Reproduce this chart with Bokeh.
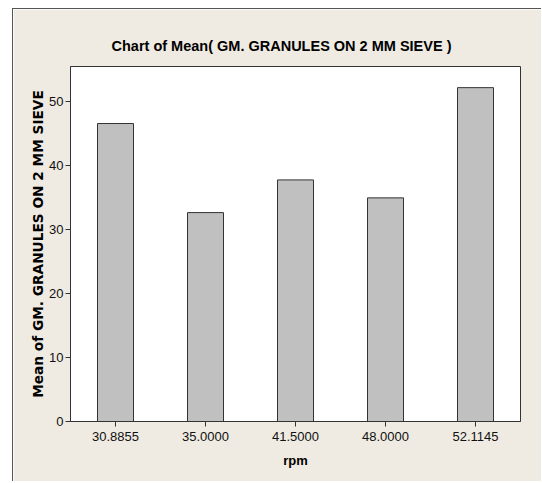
from bokeh.plotting import figure
from bokeh.models import FactorRange, Range1d, FixedTicker
from bokeh.embed import file_html
from bokeh.resources import INLINE

rpm = ["30.8855", "35.0000", "41.5000", "48.0000", "52.1145"]
mean_values = [46.5, 32.6, 37.7, 34.9, 52.1]
y_ticks = [0, 10, 20, 30, 40, 50]

title_text = "Chart of Mean( GM. GRANULES ON 2 MM SIEVE )"
x_label = "rpm"
y_label = "Mean of GM. GRANULES ON 2 MM SIEVE"

BG = "#EFEBE2"
DARK = "#333333"
SANS = "Liberation Sans"

p = figure(
    x_range=FactorRange(factors=rpm, range_padding=0),
    y_range=Range1d(0, 55.4),
    frame_width=450, frame_height=355,
    width=528, height=472,
    min_border_left=57, min_border_top=57, min_border_right=21, min_border_bottom=60,
    output_backend="svg", toolbar_location=None,
    background_fill_color="white", border_fill_color=BG,
)
p.styles = {"margin-left": "12px", "margin-top": "8px",
            "border-left": "1px solid #555555", "border-top": "1px solid #555555"}

p.vbar(x=rpm, top=mean_values, bottom=0, width=0.4,
       fill_color="#C0C0C0", line_color=DARK, line_width=1)

p.title.text = title_text
p.title.text_font = SANS
p.title.text_font_size = "14.5px"
p.title.text_font_style = "bold"
p.title.text_color = "black"
p.title.align = "left"
p.title.offset = 41
p.title.standoff = 25

p.outline_line_color = DARK
p.outline_line_width = 1
p.xgrid.visible = False
p.ygrid.visible = False

for ax in (p.xaxis[0], p.yaxis[0]):
    ax.axis_line_color = DARK
    ax.major_tick_line_color = DARK
    ax.major_tick_in = 0
    ax.major_tick_out = 5
    ax.minor_tick_line_color = None
    ax.major_label_text_font = SANS
    ax.major_label_text_font_size = "13px"
    ax.major_label_text_color = "#111111"

p.yaxis.ticker = FixedTicker(ticks=y_ticks)
p.yaxis.major_label_standoff = 2
p.yaxis.axis_label = y_label
p.yaxis.axis_label_text_font = "DejaVu Sans"
p.yaxis.axis_label_text_font_size = "13.7px"
p.yaxis.axis_label_text_font_style = "bold"
p.yaxis.axis_label_text_color = "black"
p.yaxis.axis_label_standoff = 0

p.xaxis.major_label_standoff = 5
p.xaxis.axis_label = x_label
p.xaxis.axis_label_text_font = SANS
p.xaxis.axis_label_text_font_size = "13px"
p.xaxis.axis_label_text_font_style = "bold"
p.xaxis.axis_label_text_color = "black"
p.xaxis.axis_label_standoff = 9

open("out.html", "w").write(file_html(p, INLINE))
